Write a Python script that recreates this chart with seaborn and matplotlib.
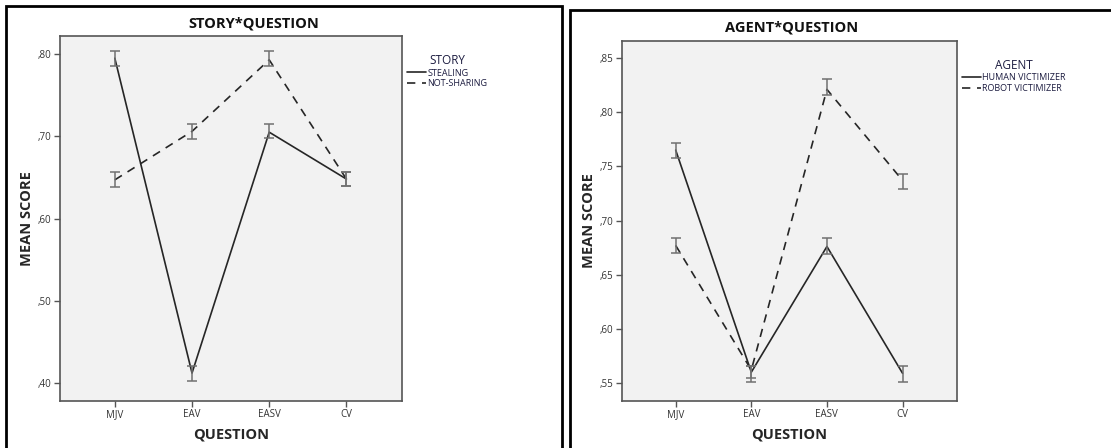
import numpy as np
import pandas as pd
import seaborn as sns
import matplotlib.pyplot as plt
from matplotlib.patches import Rectangle
from matplotlib.ticker import FuncFormatter

# datos
questions = ['MJV', 'EAV', 'EASV', 'CV']

story_levels = ['STEALING', 'NOT-SHARING']
stealing_mean = [0.795, 0.412, 0.705, 0.648]
stealing_lo = [0.786, 0.402, 0.698, 0.640]
stealing_hi = [0.804, 0.421, 0.715, 0.657]
notsharing_mean = [0.647, 0.706, 0.793, 0.648]
notsharing_lo = [0.638, 0.697, 0.786, 0.640]
notsharing_hi = [0.656, 0.715, 0.804, 0.657]

agent_levels = ['HUMAN VICTIMIZER', 'ROBOT VICTIMIZER']
human_mean = [0.765, 0.560, 0.676, 0.559]
human_lo = [0.758, 0.551, 0.669, 0.551]
human_hi = [0.772, 0.566, 0.684, 0.566]
robot_mean = [0.677, 0.562, 0.821, 0.737]
robot_lo = [0.670, 0.555, 0.816, 0.729]
robot_hi = [0.684, 0.566, 0.831, 0.743]

story_yticks = [0.40, 0.50, 0.60, 0.70, 0.80]
agent_yticks = [0.55, 0.60, 0.65, 0.70, 0.75, 0.80, 0.85]


def long_df(levels, means, los, his, name):
    rows = []
    for lev, m, lo, hi in zip(levels, means, los, his):
        for q, a, b, c in zip(questions, m, lo, hi):
            rows.append({'QUESTION': q, name: lev, 'mean': a, 'lo': b, 'hi': c})
    return pd.DataFrame(rows)


df_story = long_df(story_levels, [stealing_mean, notsharing_mean],
                   [stealing_lo, notsharing_lo], [stealing_hi, notsharing_hi], 'STORY')
df_agent = long_df(agent_levels, [human_mean, robot_mean],
                   [human_lo, robot_lo], [human_hi, robot_hi], 'AGENT')

sns.set_theme(style='ticks')
plt.rcParams['font.family'] = ['Open Sans', 'DejaVu Sans']

W, H = 1111, 448
fig = plt.figure(figsize=(W / 100, H / 100), dpi=100)


def px_axes(l, t, r, b):
    return fig.add_axes([l / W, 1 - b / H, (r - l) / W, (b - t) / H])


def fmt(v, pos):
    return ',' + ('%.2f' % v).split('.')[1]


def panel(ax, df, name, yticks, ylim, title, title_x, title_y):
    niveles = df[name].unique()
    sns.lineplot(data=df, x='QUESTION', y='mean', style=name,
                 dashes={niveles[0]: '', niveles[1]: (5, 4)},
                 color='#262626', linewidth=1.2, ax=ax, sort=False)
    for lev in niveles:
        d = df[df[name] == lev]
        ax.errorbar(d['QUESTION'], d['mean'],
                    yerr=[d['mean'] - d['lo'], d['hi'] - d['mean']],
                    fmt='none', ecolor='#707070', elinewidth=1.1,
                    capsize=3.5, capthick=1.1)
    ax.set_facecolor('#f2f2f2')
    for s in ax.spines.values():
        s.set_color('#555555')
        s.set_linewidth(1.2)
    ax.set_xlim(-0.71, 3.72)
    ax.set_ylim(*ylim)
    ax.set_yticks(yticks)
    ax.yaxis.set_major_formatter(FuncFormatter(fmt))
    ax.tick_params(axis='both', labelsize=7, length=4, width=1,
                   color='#555555', labelcolor='#333333', pad=2)
    ax.set_xlabel('QUESTION', fontsize=10.5, fontweight='bold', labelpad=5)
    ax.set_ylabel('MEAN SCORE', fontsize=10.5, fontweight='bold', labelpad=3)
    fig.text(title_x / W, 1 - title_y / H, title, ha='center', va='center',
             fontsize=10.5, fontweight='bold', color='#111111')
    leg = ax.legend(loc='upper left', bbox_to_anchor=(1.003, 0.96), frameon=False,
                    title=name, fontsize=6.5, title_fontsize=8.5,
                    handlelength=2.2, handletextpad=0.1, labelspacing=0.15,
                    borderaxespad=0.0)
    for t in leg.get_texts():
        t.set_color('#1c1c40')
    leg.get_title().set_color('#1c1c40')


ax1 = px_axes(60, 36, 402, 401)
panel(ax1, df_story, 'STORY', story_yticks, (0.378, 0.822),
      'STORY*QUESTION', 254, 23)

ax2 = px_axes(622, 41, 957, 401)
panel(ax2, df_agent, 'AGENT', agent_yticks, (0.5334, 0.8657),
      'AGENT*QUESTION', 792, 28)

# marcos negros de cada panel
fig.patches.append(Rectangle((6 / W, -0.1), (562 - 6) / W, 1.1 - 6 / H,
                             transform=fig.transFigure, fill=False,
                             edgecolor='black', linewidth=2))
fig.patches.append(Rectangle((570 / W, -0.1), 0.6, 1.1 - 10 / H,
                             transform=fig.transFigure, fill=False,
                             edgecolor='black', linewidth=2))

fig.savefig('out.png', dpi=100)
